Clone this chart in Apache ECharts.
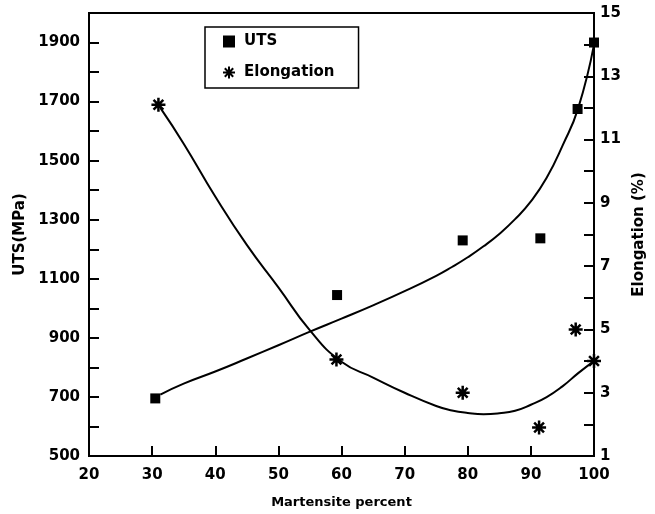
<!DOCTYPE html>
<html>
<head>
<meta charset="utf-8">
<script src="https://cdn.jsdelivr.net/npm/echarts@6/dist/echarts.min.js"></script>
<style>
  html, body { margin: 0; padding: 0; background: #fff; }
  #chart { width: 655px; height: 514px; }
</style>
</head>
<body>
<div id="chart"></div>
<script>
// measured points
const utsX = [30.5, 59.3, 79.2, 91.5, 97.4, 100]
const utsY = [695, 1045, 1230, 1237, 1675, 1900]
const elongX = [31, 59.2, 79.2, 91.3, 97.1, 100]
const elongY = [12.1, 4.05, 3.0, 1.9, 5.0, 4.0]

// fitted curves
const utsFitX = [31.3, 35, 40, 45, 50, 55, 60, 65, 70, 75, 77.5, 80, 82.5, 85, 87.5, 90, 92.5, 95, 97.5, 100]
const utsFitY = [708, 745, 786, 830, 875, 921, 965, 1010, 1058, 1110, 1140, 1173, 1210, 1252, 1302, 1362, 1442, 1550, 1678, 1893]
const elongFitX = [31.3, 35, 40, 45, 50, 55, 60, 65, 70, 75, 77.5, 80, 82.5, 85, 87.5, 90, 92.5, 95, 97.5, 100]
const elongFitY = [12.0, 10.87, 9.2, 7.67, 6.33, 4.97, 3.98, 3.48, 3.0, 2.58, 2.44, 2.36, 2.32, 2.35, 2.43, 2.62, 2.86, 3.2, 3.62, 4.0]

// tick labels
const utsLabels = [500, 700, 900, 1100, 1300, 1500, 1700, 1900]
const elongLabels = [1, 3, 5, 7, 9, 11, 13, 15]

const FONT = 'DejaVu Sans'
const star = 'path://M10,0L10,20M0,10L20,10M3,3L17,17M3,17L17,3'
const square = 'path://M0,0L10,0L10,10L0,10Z'

const zip = (xs, ys) => xs.map((x, i) => [x, ys[i]])

const chart = echarts.init(document.getElementById('chart'))
const axisLine = { lineStyle: { color: '#000', width: 2 } }
const axisTick = { inside: true, length: 10, lineStyle: { color: '#000', width: 2 } }

chart.setOption({
  animation: false,
  textStyle: { fontFamily: FONT, color: '#000', fontWeight: 'bold' },
  grid: {
    left: 89, right: 56, top: 13, bottom: 56,
    show: true, borderColor: '#000', borderWidth: 2, backgroundColor: 'transparent'
  },
  legend: {
    data: ['UTS', 'Elongation'],
    orient: 'vertical',
    left: 205, top: 27,
    padding: [7, 24, 8, 17],
    itemWidth: 12, itemHeight: 12, itemGap: 16,
    borderColor: '#000', borderWidth: 1.5,
    textStyle: { fontFamily: FONT, fontSize: 15, fontWeight: 'bold', color: '#000', padding: [0, 0, 0, 4] }
  },
  xAxis: {
    type: 'value', min: 20, max: 100, interval: 10,
    name: 'Martensite percent', nameLocation: 'middle', nameGap: 40,
    nameTextStyle: { fontSize: 13, fontWeight: 'bold', color: '#000' },
    axisLine, axisTick,
    splitLine: { show: false },
    axisLabel: { margin: 12, fontSize: 15, fontWeight: 'bold', color: '#000' }
  },
  yAxis: [
    {
      type: 'value', min: 500, max: 2000, interval: 100, position: 'left',
      name: 'UTS(MPa)', nameLocation: 'middle', nameGap: 57,
      nameTextStyle: { fontSize: 15, fontWeight: 'bold', color: '#000' },
      axisLine: { show: true, ...axisLine }, axisTick,
      splitLine: { show: false },
      axisLabel: {
        margin: 9, fontSize: 15, fontWeight: 'bold', color: '#000',
        formatter: v => utsLabels.includes(v) ? String(v) : ''
      }
    },
    {
      type: 'value', min: 1, max: 15, interval: 1, position: 'right',
      name: 'Elongation (%)', nameLocation: 'middle', nameGap: 38,
      nameTextStyle: { fontSize: 15, fontWeight: 'bold', color: '#000' },
      axisLine: { show: true, ...axisLine }, axisTick,
      splitLine: { show: false },
      axisLabel: {
        margin: 6, fontSize: 15, fontWeight: 'bold', color: '#000',
        formatter: v => elongLabels.includes(v) ? String(v) : ''
      }
    }
  ],
  series: [
    {
      name: 'UTS fit', type: 'line', yAxisIndex: 0, smooth: 0.5, showSymbol: false,
      lineStyle: { color: '#000', width: 2 }, data: zip(utsFitX, utsFitY)
    },
    {
      name: 'Elongation fit', type: 'line', yAxisIndex: 1, smooth: 0.5, showSymbol: false,
      lineStyle: { color: '#000', width: 2 }, data: zip(elongFitX, elongFitY)
    },
    {
      name: 'UTS', type: 'scatter', yAxisIndex: 0, symbol: square, symbolSize: 10,
      itemStyle: { color: '#000', opacity: 1 }, data: zip(utsX, utsY)
    },
    {
      name: 'Elongation', type: 'scatter', yAxisIndex: 1, symbol: star, symbolSize: 14,
      itemStyle: { color: '#000', borderColor: '#000', borderWidth: 2.5, opacity: 1 },
      data: zip(elongX, elongY)
    }
  ]
})
</script>
</body>
</html>
